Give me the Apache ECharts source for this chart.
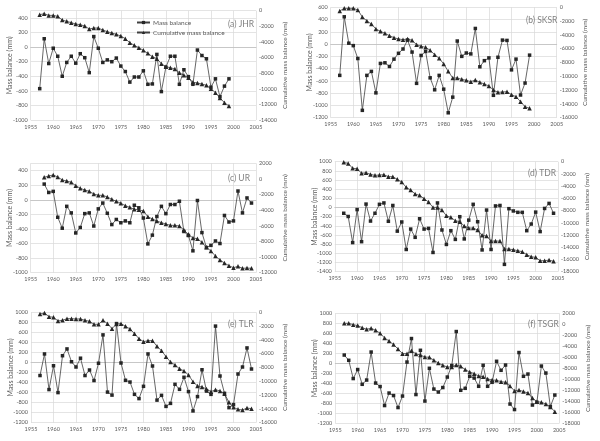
<!DOCTYPE html>
<html>
<head>
<meta charset="utf-8">
<script src="https://cdn.jsdelivr.net/npm/echarts@6/dist/echarts.min.js"></script>
<style>
html,body{margin:0;padding:0;background:#fff;}
#main{width:600px;height:441px;}
</style>
</head>
<body>
<div id="main"></div>
<script>
// years
var yearsAB = [1957,1958,1959,1960,1961,1962,1963,1964,1965,1966,1967,1968,1969,1970,1971,1972,1973,1974,1975,1976,1977,1978,1979,1980,1981,1982,1983,1984,1985,1986,1987,1988,1989,1990,1991,1992,1993,1994,1995,1996,1997,1998,1999];
var yearsC = [1958,1959,1960,1961,1962,1963,1964,1965,1966,1967,1968,1969,1970,1971,1972,1973,1974,1975,1976,1977,1978,1979,1980,1981,1982,1983,1984,1985,1986,1987,1988,1989,1990,1991,1992,1993,1994,1995,1996,1997,1998,1999,2000,2001,2002,2003,2004];
var yearsDEF = [1957,1958,1959,1960,1961,1962,1963,1964,1965,1966,1967,1968,1969,1970,1971,1972,1973,1974,1975,1976,1977,1978,1979,1980,1981,1982,1983,1984,1985,1986,1987,1988,1989,1990,1991,1992,1993,1994,1995,1996,1997,1998,1999,2000,2001,2002,2003,2004];

// (a) JHR
var mbA = [-570,115,-225,-15,-125,-400,-210,-125,-220,-90,-145,-350,145,-15,-210,-175,-200,-150,-260,-335,-480,-410,-410,-325,-510,-505,-100,-610,-275,-125,-125,-510,-310,-405,-510,-40,-115,-160,-550,-435,-680,-535,-435];
var cumA = [-510,-385,-600,-600,-725,-1195,-1365,-1535,-1705,-1795,-1965,-2345,-2220,-2220,-2475,-2690,-2860,-3030,-3245,-3585,-4095,-4440,-4740,-5080,-5465,-5890,-6145,-6785,-7170,-7300,-7470,-7940,-8280,-8580,-9175,-9260,-9390,-9560,-9985,-10500,-11180,-11780,-12205];
// (b) SKSR
var mbB = [-510,445,15,-25,-235,-1080,-510,-445,-795,-315,-305,-365,-245,-150,-80,65,-130,-640,-185,-120,-550,-745,-510,-735,-1120,-865,50,-200,-145,-160,255,-370,-270,-225,-835,-215,65,60,-420,-245,-830,-635,-180];
var cumB = [-530,-145,-145,-145,-385,-1400,-1980,-2415,-3140,-3480,-3770,-4110,-4400,-4590,-4690,-4590,-4785,-5415,-5655,-5800,-6235,-6865,-7395,-8215,-9280,-10245,-10245,-10440,-10585,-10780,-10535,-10875,-11115,-11405,-11985,-12325,-12275,-12230,-12665,-12955,-13680,-14405,-14645];
// (c) UR
var mbC = [215,100,115,-240,-390,-90,-180,-455,-380,-190,-180,-360,-125,-45,-185,-340,-270,-315,-290,-315,-75,-110,-250,-605,-485,-230,-90,-190,-65,-65,-20,-435,-490,-700,-10,-450,-655,-625,-565,-600,-215,-305,-290,120,-180,25,-45];
var cumC = [205,380,505,250,-135,-260,-435,-860,-1200,-1415,-1585,-1925,-2095,-2095,-2310,-2610,-2865,-3120,-3420,-3635,-3890,-3935,-4105,-4830,-5130,-5385,-5595,-5770,-5940,-5940,-6025,-6535,-7090,-7560,-7645,-8115,-8755,-9225,-9865,-10375,-10760,-11105,-11360,-11190,-11445,-11400,-11445];
// (d) TDR
var mbD = [-125,-195,-765,-45,-745,75,-295,-125,70,100,-300,45,-515,-315,-915,-470,-650,-245,-470,-455,-980,100,-490,-805,-505,-695,-200,-685,-275,70,-310,-925,-55,-915,35,45,-1240,-25,-75,-105,-105,-505,-360,-100,-525,-20,90,-125];
var cumD = [-110,-275,-1090,-1145,-1910,-1800,-2075,-2235,-2180,-2130,-2455,-2455,-2890,-3330,-4200,-4635,-5290,-5510,-6055,-6600,-7475,-7475,-7910,-8840,-9110,-9655,-9820,-10530,-10855,-10855,-11185,-12055,-12165,-12985,-12985,-12985,-14295,-14295,-14400,-14565,-14730,-15220,-15550,-15655,-16205,-16205,-16095,-16310];
// (e) TLR
var mbE = [-260,170,-540,-65,-600,135,270,15,-90,85,-260,-150,-360,-15,550,-590,-650,775,-10,-355,-390,-635,-720,-475,170,-70,-750,-655,-875,-815,-435,-535,-295,-580,-965,-680,-145,-570,-635,725,-270,-615,-900,-840,-230,-90,290,-130];
var cumE = [-240,-95,-630,-725,-1255,-1160,-920,-920,-965,-965,-1160,-1305,-1740,-1740,-1160,-1645,-2370,-1690,-1645,-2030,-2415,-3095,-3820,-4255,-4110,-4110,-4930,-5560,-6430,-7200,-7635,-8170,-8505,-9085,-10055,-10680,-10825,-11115,-11505,-11215,-11405,-11795,-13050,-13775,-14065,-14160,-13870,-13970];
// (f) TSGR
var mbF = [165,60,-305,-125,-420,-335,225,-395,-465,-845,-595,-645,-885,-655,25,495,-625,260,-755,-100,-515,-575,-485,-275,-45,635,-540,-500,-260,-295,-460,-40,-460,-380,40,-140,-35,-815,-925,215,-260,-215,-835,-780,-55,-195,-865,-635];
var cumF = [180,180,-60,-240,-605,-910,-725,-1090,-1635,-2485,-3030,-3695,-4485,-5335,-5335,-4790,-5395,-5575,-5940,-6000,-6545,-7030,-7455,-7760,-7760,-7395,-7635,-8240,-8665,-8970,-9395,-9515,-9940,-10120,-10180,-10425,-10545,-11210,-12120,-11940,-12240,-12485,-13395,-14060,-14180,-14485,-15030,-15880];

var panels = [
    {label:'(a) JHR',  years:yearsAB,  mb:mbA, cum:cumA, left:[-1000,500],  right:[-14000,0],    grid:[30.7,10.7,225.3,109.3], title:[223,15]},
    {label:'(b) SKSR', years:yearsAB,  mb:mbB, cum:cumB, left:[-1200,600],  right:[-16000,0],    grid:[330.7,7.3,226,110.4],   title:[521,11]},
    {label:'(c) UR',   years:yearsC,   mb:mbC, cum:cumC, left:[-1000,500],  right:[-12000,2000], grid:[30.7,163.3,225.3,109.4], title:[223,169]},
    {label:'(d) TDR',  years:yearsDEF, mb:mbD, cum:cumD, left:[-1400,1000], right:[-18000,0],    grid:[334.8,161.7,223.2,110], title:[523,164]},
    {label:'(e) TLR',  years:yearsDEF, mb:mbE, cum:cumE, left:[-1200,1000], right:[-16000,0],    grid:[31,312.3,225,110.4],   title:[223,315]},
    {label:'(f) TSGR', years:yearsDEF, mb:mbF, cum:cumF, left:[-1200,1000], right:[-18000,2000], grid:[335.3,313.3,224,110],   title:[523,315]}
];

var txt = '#595959';
var font = 'Lato';
function plain(v){ return String(v); }
function pairs(xs, vs){ return xs.map(function(x,i){ return [x, vs[i]]; }); }

var grids = [], xAxes = [], yAxes = [], series = [], titles = [];
for (var i = 0; i < panels.length; i++) {
    var p = panels[i];
    grids.push({left:p.grid[0], top:p.grid[1], width:p.grid[2], height:p.grid[3]});
    titles.push({text:p.label, left:p.title[0], top:p.title[1],
        textStyle:{fontSize:8.5, fontWeight:'normal', color:'#7f7f7f', fontFamily:font}});
    xAxes.push({
        type:'value', gridIndex:i, min:1955, max:2005, interval:5,
        axisLine:{lineStyle:{color:'#bfbfbf', width:0.8}},
        axisTick:{show:false},
        axisLabel:{fontSize:5.5, color:txt, margin:4, formatter:plain, fontFamily:font},
        splitLine:{lineStyle:{color:'#d9d9d9', width:0.7}}
    });
    yAxes.push({
        type:'value', gridIndex:i, position:'left', min:p.left[0], max:p.left[1], interval:200,
        name:'Mass balance (mm)', nameLocation:'middle', nameGap:17, nameMoveOverlap:false,
        nameTextStyle:{fontSize:7, color:txt, fontFamily:font},
        axisLine:{show:false}, axisTick:{show:false},
        axisLabel:{fontSize:5.5, color:txt, margin:3, formatter:plain, showMaxLabel:(p.left[1]-p.left[0])%200===0, fontFamily:font},
        splitLine:{lineStyle:{color:'#d9d9d9', width:0.7}}
    });
    yAxes.push({
        type:'value', gridIndex:i, position:'right', min:p.right[0], max:p.right[1], interval:2000,
        name:'Cumulative mass balance (mm)', nameLocation:'middle', nameGap:25,
        nameTextStyle:{fontSize:6.5, color:txt, fontFamily:font},
        axisLine:{show:false}, axisTick:{show:false},
        axisLabel:{fontSize:5.5, color:txt, margin:3, formatter:plain, fontFamily:font},
        splitLine:{show:false}
    });
    series.push({
        name: i === 0 ? 'Mass balance' : 'Mass balance ' + p.label,
        type:'line', xAxisIndex:i, yAxisIndex:2*i, data:pairs(p.years, p.mb),
        symbol:'rect', symbolSize:3.5,
        lineStyle:{color:'#404040', width:0.8}, itemStyle:{color:'#262626'}
    });
    series.push({
        name: i === 0 ? 'Cumulative mass balance' : 'Cumulative mass balance ' + p.label,
        type:'line', xAxisIndex:i, yAxisIndex:2*i+1, data:pairs(p.years, p.cum),
        symbol:'triangle', symbolSize:4.5,
        lineStyle:{color:'#404040', width:0.8}, itemStyle:{color:'#262626'}
    });
}

var myChart = echarts.init(document.getElementById('main'));
var option = {
    animation:false,
    backgroundColor:'#fff',
    textStyle:{fontFamily:font},
    title:titles,
    legend:{
        data:['Mass balance','Cumulative mass balance'],
        orient:'vertical', left:131, top:14, itemGap:3, itemWidth:13, itemHeight:4,
        textStyle:{fontSize:6.5, color:txt, fontFamily:font, padding:[0,0,0,-2]}
    },
    grid:grids,
    xAxis:xAxes,
    yAxis:yAxes,
    series:series
};
myChart.setOption(option);
</script>
</body>
</html>
